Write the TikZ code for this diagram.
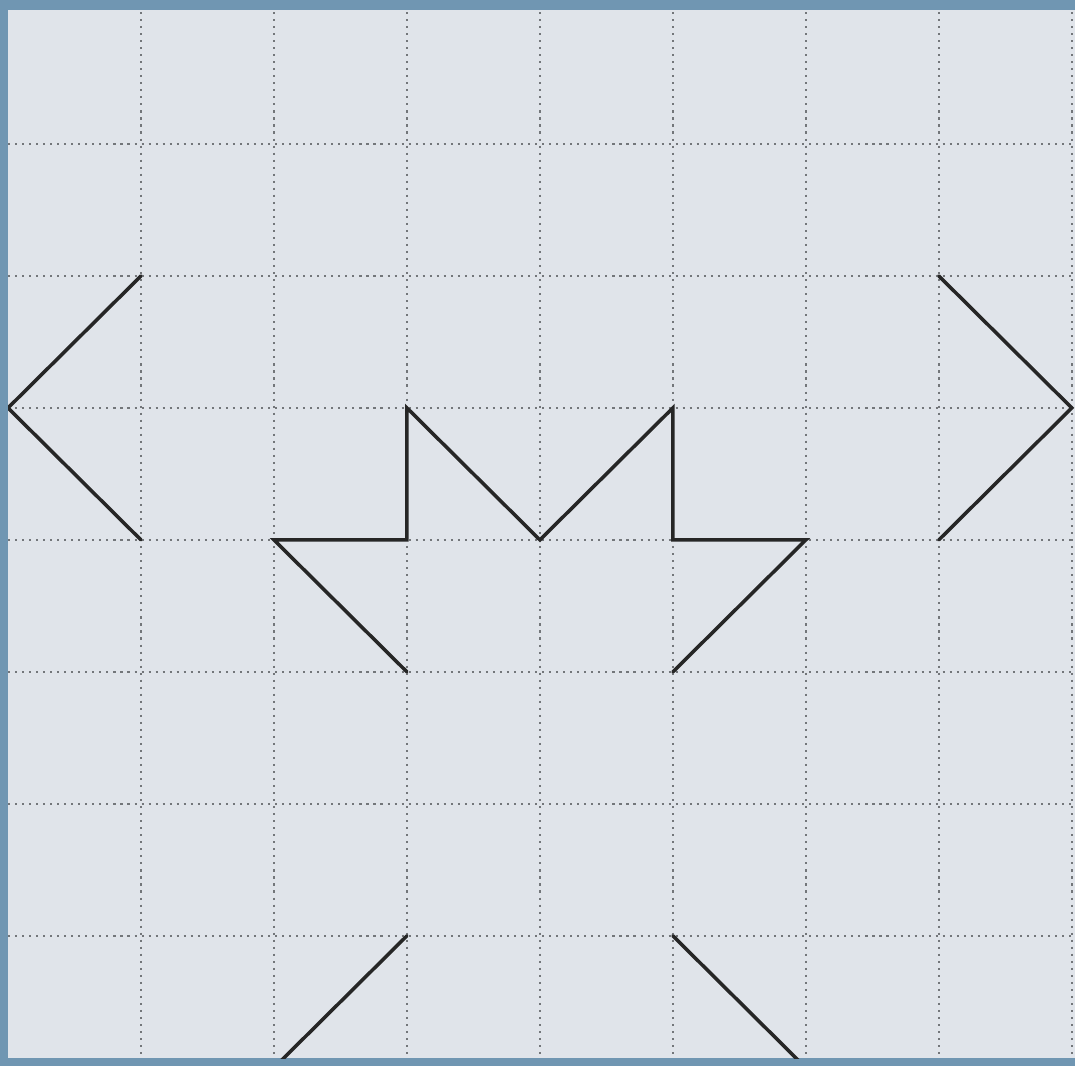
\documentclass[tikz,border=0pt]{standalone}
\usepackage{tikz}
\definecolor{frameblue}{RGB}{112,150,178}
\definecolor{paperwhite}{RGB}{224,228,234}
\definecolor{dotgray}{RGB}{115,118,122}
\tikzset{
  gridline/.style={
    dotgray,
    line width=1.2pt,
    dash pattern=on 1.2pt off 2.8pt
  },
  figline/.style={
    black!85,
    line width=2pt,
    line join=miter,
    line cap=round
  }
}
\begin{document}
\begin{tikzpicture}[x=0.02cm,y=-0.02cm]
\useasboundingbox (0,0) rectangle (1075,1066);
\fill[frameblue] (0,0) rectangle (1075,1066);
\fill[paperwhite] (8,10) rectangle (1075,1058);
\clip (8,10) rectangle (1075,1058);
\begin{scope}[shift={(8,12)},x=2.66cm,y=-2.64cm]
% dotted squares
\foreach \i in {1,...,8} {
  \draw[gridline] (\i,0) -- (\i,8);
}
\foreach \j in {1,...,7} {
  \draw[gridline] (0,\j) -- (8,\j);
}
\foreach \c/\r in {0/0,1/2,0/3,1/4,7/2,8/3,7/4,3/5,2/4,3/4,3/3,4/4,5/3,5/4,6/4,5/5,2/8,3/7,5/7,6/8}
  \coordinate (p\c\r) at (\c,\r);
% the figure
\draw[figline] (p12) -- (p03) -- (p14);
\draw[figline] (p72) -- (p83) -- (p74);
\draw[figline] (p35) -- (p24) -- (p34) -- (p33) -- (p44) -- (p53) -- (p54) -- (p64) -- (p55);
\draw[figline] (p28) -- (p37);
\draw[figline] (p57) -- (p68);
\end{scope}
\end{tikzpicture}
\end{document}
